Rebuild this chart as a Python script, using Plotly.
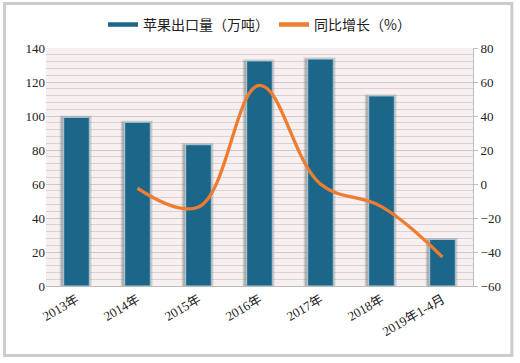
import plotly.graph_objects as go

categories = ["2013年", "2014年", "2015年", "2016年", "2017年", "2018年", "2019年1-4月"]
export_volume = [99.2, 96.3, 83.1, 132.4, 133.5, 111.8, 27.4]
yoy_growth = [None, -2.5, -13.5, 58.0, 0.0, -13.3, -43.0]
left_ticks = [0, 20, 40, 60, 80, 100, 120, 140]
right_ticks = [-60, -40, -20, 0, 20, 40, 60, 80]

bar_name = "苹果出口量（万吨）"
line_name = "同比增长（%）"
bar_color = "#1c6689"
line_color = "#ee7d31"
font_fam = "Liberation Serif, Noto Sans CJK SC, serif"

fig = go.Figure()

# shadow behind bars
fig.add_trace(go.Bar(
    x=categories, y=export_volume, width=0.47, offset=-0.25,
    marker=dict(color="rgba(120,120,120,0.40)", line=dict(color="rgba(120,120,120,0.30)", width=3)),
    showlegend=False, hoverinfo="skip"))
fig.add_trace(go.Bar(
    x=categories, y=export_volume, width=0.42, name=bar_name,
    marker=dict(color=bar_color, line=dict(color="#a9c9d8", width=1)),
    showlegend=False))
fig.add_trace(go.Scatter(
    x=categories, y=yoy_growth, yaxis="y2", mode="lines", name=line_name,
    line=dict(color=line_color, width=3.3, shape="spline", smoothing=1.1),
    showlegend=False))

# legend-only entries (line symbols)
fig.add_trace(go.Scatter(x=[None], y=[None], mode="lines", name=bar_name,
                         line=dict(color=bar_color, width=4.5)))
fig.add_trace(go.Scatter(x=[None], y=[None], mode="lines", name=line_name, yaxis="y2",
                         line=dict(color=line_color, width=4.5)))

fig.update_layout(
    width=520, height=363,
    margin=dict(l=46, r=47, t=48, b=77, autoexpand=False),
    paper_bgcolor="white",
    plot_bgcolor="#f7eff0",
    barmode="overlay",
    font=dict(family=font_fam, size=13, color="#222222"),
    legend=dict(orientation="h", x=0.5, xanchor="center", y=1.097, yanchor="middle",
                font=dict(size=14, family="Noto Sans CJK SC, serif", color="#222222"),
                itemwidth=30, bgcolor="rgba(0,0,0,0)"),
    xaxis=dict(tickangle=-30, showgrid=False, showline=True, linecolor="#bcbcbc",
               linewidth=1, ticks="", automargin=False, tickfont=dict(size=13, family=font_fam)),
    yaxis=dict(range=[0, 140], tickvals=left_ticks, showline=False, zeroline=False,
               gridcolor="#cfc9c9", gridwidth=1, automargin=False,
               minor=dict(dtick=4, tick0=0, showgrid=True, gridcolor="#d9d2d2", gridwidth=1),
               ticks="", tickfont=dict(size=13, family=font_fam)),
    yaxis2=dict(range=[-60, 80], tickvals=right_ticks, overlaying="y", side="right",
                showgrid=False, zeroline=False, showline=True, linecolor="#bcbcbc",
                ticks="outside", ticklen=4, tickcolor="#bcbcbc", automargin=False,
                tickfont=dict(size=13, family=font_fam)),
    shapes=[dict(type="rect", xref="paper", yref="paper",
                 x0=-0.097, x1=1.091, y0=-0.292, y1=1.187,
                 line=dict(color="#cccccc", width=3), layer="below")],
)

fig.write_html("out.html", config={"displayModeBar": False},
               post_script="document.body.style.margin='0';document.body.style.overflow='hidden';")
